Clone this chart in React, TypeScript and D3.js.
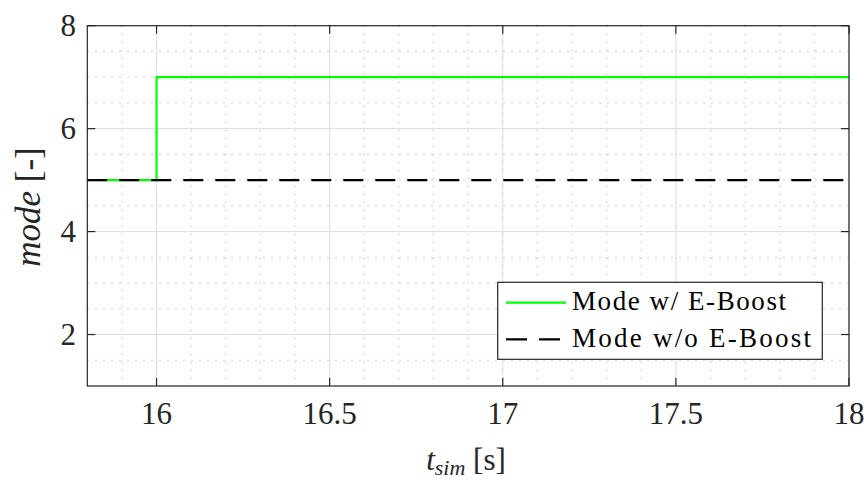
import React from "react";
import * as d3 from "d3";

const timeWith = [15.8, 16, 18];
const modeWith = [5, 7, 7];
const timeWithout = [15.8, 18];
const modeWithout = [5, 5];
const xTicks = [16, 16.5, 17, 17.5, 18];
const yTicks = [2, 4, 6, 8];
const legendLabels = ["Mode w/ E-Boost", "Mode w/o E-Boost"];

const W = 867;
const H = 480;
const M = { left: 87.3, right: 849, top: 25.7, bottom: 386 };
const CSS = `
#chartsvg text, #chartsvg tspan { font-family: 'Liberation Serif', 'Times New Roman', Tinos, serif !important; }
`;

export default function App() {
  const x = d3.scaleLinear().domain([15.8, 18]).range([M.left, M.right]);
  const y = d3.scaleLinear().domain([1, 8]).range([M.bottom, M.top]);

  const xMinor = d3.range(15.8, 18.0001, 0.1).map((v) => +v.toFixed(2));
  const yMinor = d3.range(1, 8.0001, 0.5);

  const stepLine = d3
    .line<number>()
    .x((d, i) => x(timeWith[i]))
    .y((d) => y(d))
    .curve(d3.curveStepAfter);
  const flatLine = d3
    .line<number>()
    .x((d, i) => x(timeWithout[i]))
    .y((d) => y(d));

  const axisColor = "#262626";
  const tickLen = 8;

  return (
    <div style={{ position: "absolute", left: 0, top: 0, width: W, height: H }}>
      <style>{CSS}</style>
      <svg id="chartsvg" width={W} height={H} style={{ display: "block", background: "#fff" }}>
        <rect x={0} y={0} width={W} height={H} fill="#fff" />
        {/* minor grid */}
        <g stroke="#bdbdbd" strokeWidth={1} strokeDasharray="1.5,6.5">
          {xMinor.map((v) => (
            <line key={"xm" + v} x1={x(v)} x2={x(v)} y1={M.top} y2={M.bottom} />
          ))}
          {yMinor.map((v) => (
            <line key={"ym" + v} x1={M.left} x2={M.right} y1={y(v)} y2={y(v)} />
          ))}
        </g>
        {/* major grid */}
        <g stroke="#dedede" strokeWidth={1}>
          {xTicks.map((v) => (
            <line key={"xg" + v} x1={x(v)} x2={x(v)} y1={M.top} y2={M.bottom} />
          ))}
          {yTicks.map((v) => (
            <line key={"yg" + v} x1={M.left} x2={M.right} y1={y(v)} y2={y(v)} />
          ))}
        </g>
        {/* data */}
        <path d={stepLine(modeWith) || ""} fill="none" stroke="#00ff00" strokeWidth={2.2} />
        <path
          d={flatLine(modeWithout) || ""}
          fill="none"
          stroke="#000"
          strokeWidth={2.2}
          strokeDasharray="20,12"
        />
        {/* axes box */}
        <rect
          x={M.left}
          y={M.top}
          width={M.right - M.left}
          height={M.bottom - M.top}
          fill="none"
          stroke={axisColor}
          strokeWidth={1.2}
        />
        <g stroke={axisColor} strokeWidth={1.2}>
          {xTicks.map((v) => (
            <g key={"xt" + v}>
              <line x1={x(v)} x2={x(v)} y1={M.bottom} y2={M.bottom - tickLen} />
              <line x1={x(v)} x2={x(v)} y1={M.top} y2={M.top + tickLen} />
            </g>
          ))}
          {yTicks.map((v) => (
            <g key={"yt" + v}>
              <line x1={M.left} x2={M.left + tickLen} y1={y(v)} y2={y(v)} />
              <line x1={M.right} x2={M.right - tickLen} y1={y(v)} y2={y(v)} />
            </g>
          ))}
        </g>
        {/* tick labels */}
        <g fill="#262626">
          {xTicks.map((v) => (
            <text key={"xl" + v} x={x(v)} y={424} textAnchor="middle" fontSize={31}>
              {String(v)}
            </text>
          ))}
          {yTicks.map((v) => (
            <text key={"yl" + v} x={76} y={y(v) + 10.5} textAnchor="end" fontSize={31}>
              {String(v)}
            </text>
          ))}
        </g>
        {/* axis labels */}
        <text x={466} y={470} textAnchor="middle" fill="#262626" fontSize={31}>
          <tspan fontStyle="italic">t</tspan>
          <tspan fontStyle="italic" fontSize={22} dy={5}>
            sim
          </tspan>
          <tspan dy={-5}>{"\u00a0[s]"}</tspan>
        </text>
        <text
          transform={`translate(40,207) rotate(-90)`}
          textAnchor="middle"
          fill="#262626"
          fontSize={35}
        >
          <tspan fontStyle="italic">mode</tspan>
          <tspan>{"\u00a0[-]"}</tspan>
        </text>
        {/* legend */}
        <g>
          <rect x={497.7} y={282.3} width={324.6} height={77} fill="#fff" stroke={axisColor} strokeWidth={1.2} />
          <line x1={506} x2={566} y1={302.7} y2={302.7} stroke="#00ff00" strokeWidth={2.2} />
          <line x1={506} x2={566} y1={339.3} y2={339.3} stroke="#000" strokeWidth={2.2} strokeDasharray="21,12" />
          {legendLabels.map((t, i) => (
            <text
              key={t}
              x={572}
              y={310 + i * 36.6}
              fill="#000"
              fontSize={27}
              textLength={i === 0 ? 214 : 239}
              lengthAdjust="spacing"
            >
              {t}
            </text>
          ))}
        </g>
      </svg>
    </div>
  );
}
